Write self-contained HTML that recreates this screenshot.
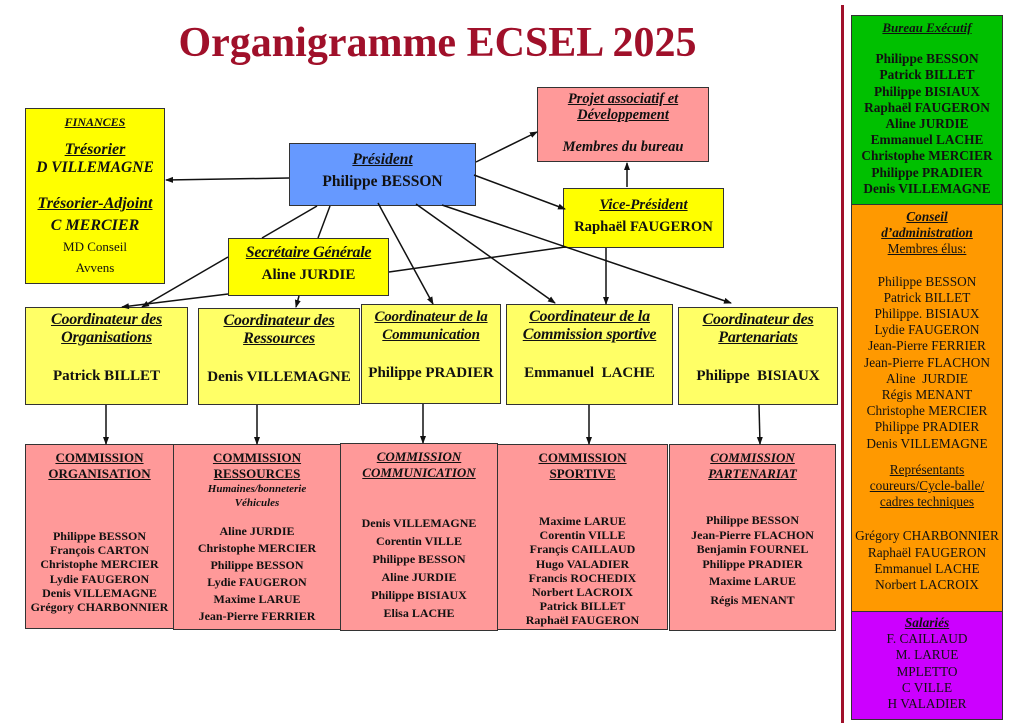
<!DOCTYPE html>
<html><head><meta charset="utf-8"><style>
*{margin:0;padding:0;box-sizing:border-box}
body{width:1024px;height:723px;background:#fff;position:relative;overflow:hidden;font-family:"Liberation Serif",serif;font-weight:bold;color:#111}
.b{position:absolute;border:1.5px solid #333;text-align:center;font-size:13px;line-height:16px;white-space:nowrap}
.t{font-style:italic;text-decoration:underline}
.y{background:#ffff00}.ly{background:#ffff66}.p{background:#ff9999}
svg{position:absolute;left:0;top:0}
.ct{font-size:16px;line-height:18px;letter-spacing:-0.2px}
</style></head><body>
<div style="position:absolute;left:130px;top:18px;width:615px;text-align:center;font-size:42px;color:#a0102a;line-height:50px">Organigramme ECSEL 2025</div>

<div class="b y" style="left:25px;top:108px;width:140px;height:176px;padding-top:4px;line-height:18px">
<div class="t" style="font-size:12px">FINANCES</div>
<div class="t" style="font-size:16px;margin-top:10px">Trésorier</div>
<div style="font-style:italic;font-size:15.5px">D VILLEMAGNE</div>
<div class="t" style="font-size:16px;margin-top:18px">Trésorier-Adjoint</div>
<div style="font-style:italic;font-size:16px;margin-top:4px">C MERCIER</div>
<div style="font-weight:normal;font-size:13px;margin-top:3px">MD Conseil</div>
<div style="font-weight:normal;font-size:13px;margin-top:3px">Avvens</div>
</div>

<div class="b" style="left:289px;top:143px;width:187px;height:63px;background:#6699ff;padding-top:5px;font-size:15.5px;line-height:22px">
<div class="t">Président</div><div>Philippe BESSON</div></div>

<div class="b p" style="left:537px;top:87px;width:172px;height:75px;padding-top:3px;font-size:14.5px;line-height:16px;font-style:italic">
<div style="text-decoration:underline">Projet associatif et<br>Développement</div><div style="margin-top:16px">Membres du bureau</div></div>

<div class="b y" style="left:563px;top:188px;width:161px;height:60px;padding-top:5px;font-size:14.7px;line-height:22px">
<div class="t">Vice-Président</div><div>Raphaël FAUGERON</div></div>

<div class="b y" style="left:228px;top:238px;width:161px;height:58px;padding-top:2px;font-size:15px;line-height:23px">
<div class="t" style="font-size:16px;letter-spacing:-0.3px">Secrétaire Générale</div><div>Aline JURDIE</div></div>

<div class="b ly" style="left:25px;top:307px;width:163px;height:98px;padding-top:3px;font-size:15px;line-height:18px"><div class="t ct">Coordinateur des<br>Organisations</div><div style="margin-top:20px">Patrick BILLET</div></div>
<div class="b ly" style="left:198px;top:308px;width:162px;height:97px;padding-top:3px;font-size:15px;line-height:18px"><div class="t ct">Coordinateur des<br>Ressources</div><div style="margin-top:20px">Denis VILLEMAGNE</div></div>
<div class="b ly" style="left:361px;top:304px;width:140px;height:100px;padding-top:3px;font-size:15px;line-height:18px"><div class="t ct" style="font-size:15px">Coordinateur de la<br>Communication</div><div style="margin-top:20px">Philippe PRADIER</div></div>
<div class="b ly" style="left:506px;top:304px;width:167px;height:101px;padding-top:3px;font-size:15px;line-height:18px"><div class="t ct">Coordinateur de la<br>Commission sportive</div><div style="margin-top:20px">Emmanuel&nbsp; LACHE</div></div>
<div class="b ly" style="left:678px;top:307px;width:160px;height:98px;padding-top:3px;font-size:15px;line-height:18px"><div class="t ct">Coordinateur des<br>Partenariats</div><div style="margin-top:20px">Philippe&nbsp; BISIAUX</div></div>

<div class="b p" style="left:25px;top:444px;width:149px;height:185px;padding-top:5px;font-size:12px;line-height:14.2px">
<div style="font-size:13px;line-height:16px;text-decoration:underline">COMMISSION<br>ORGANISATION</div>
<div style="margin-top:47px">Philippe BESSON<br>François CARTON<br>Christophe MERCIER<br>Lydie FAUGERON<br>Denis VILLEMAGNE<br>Grégory CHARBONNIER</div></div>
<div class="b p" style="left:173px;top:444px;width:168px;height:186px;padding-top:5px;font-size:12px;line-height:14px">
<div style="font-size:13px;line-height:16px;text-decoration:underline">COMMISSION<br>RESSOURCES</div>
<div style="font-style:italic;font-size:11px">Humaines/bonneterie<br>Véhicules</div>
<div style="margin-top:13px;line-height:17px">Aline JURDIE<br>Christophe MERCIER<br>Philippe BESSON<br>Lydie FAUGERON<br>Maxime LARUE<br>Jean-Pierre FERRIER</div></div>
<div class="b p" style="left:340px;top:443px;width:158px;height:188px;padding-top:5px;font-size:12px;line-height:18px">
<div class="t" style="font-size:13px;line-height:16px">COMMISSION<br>COMMUNICATION</div>
<div style="margin-top:33px">Denis VILLEMAGNE<br>Corentin VILLE<br>Philippe BESSON<br>Aline JURDIE<br>Philippe BISIAUX<br>Elisa LACHE</div></div>
<div class="b p" style="left:497px;top:444px;width:171px;height:186px;padding-top:5px;font-size:12px;line-height:14.2px">
<div style="font-size:13px;line-height:16px;text-decoration:underline">COMMISSION<br>SPORTIVE</div>
<div style="margin-top:32px">Maxime LARUE<br>Corentin VILLE<br>Françis CAILLAUD<br>Hugo VALADIER<br>Francis ROCHEDIX<br>Norbert LACROIX<br>Patrick BILLET<br>Raphaël FAUGERON</div></div>
<div class="b p" style="left:669px;top:444px;width:167px;height:187px;padding-top:5px;font-size:12px;line-height:14.5px">
<div class="t" style="font-size:13px;line-height:16px">COMMISSION<br>PARTENARIAT</div>
<div style="margin-top:31px">Philippe BESSON<br>Jean-Pierre FLACHON<br>Benjamin FOURNEL<br>Philippe PRADIER<br><span style="line-height:20px">Maxime LARUE</span><br><span style="line-height:18px">Régis MENANT</span></div></div>

<div style="position:absolute;left:841px;top:5px;width:3px;height:718px;background:#a0102a"></div>

<div class="b" style="left:851px;top:15px;width:152px;height:190px;background:#00c000;padding-top:4px;font-size:13.3px;line-height:16.2px">
<div class="t" style="font-size:13px">Bureau Exécutif</div>
<div style="margin-top:15px">Philippe BESSON<br>Patrick BILLET<br>Philippe BISIAUX<br>Raphaël FAUGERON<br>Aline JURDIE<br>Emmanuel LACHE<br>Christophe MERCIER<br>Philippe PRADIER<br>Denis VILLEMAGNE</div></div>
<div class="b" style="left:851px;top:204px;width:152px;height:408px;background:#ff9900;padding-top:4px;font-size:13.3px;line-height:16.2px;font-weight:normal">
<div class="t" style="font-weight:bold">Conseil<br>d’administration</div>
<div style="text-decoration:underline">Membres élus:</div>
<div style="margin-top:16px">Philippe BESSON<br>Patrick BILLET<br>Philippe. BISIAUX<br>Lydie FAUGERON<br>Jean-Pierre FERRIER<br>Jean-Pierre FLACHON<br>Aline&nbsp; JURDIE<br>Régis MENANT<br>Christophe MERCIER<br>Philippe PRADIER<br>Denis VILLEMAGNE</div>
<div style="margin-top:10px;text-decoration:underline">Représentants<br>coureurs/Cycle-balle/<br>cadres techniques</div>
<div style="margin-top:18px">Grégory CHARBONNIER<br>Raphaël FAUGERON<br>Emmanuel LACHE<br>Norbert LACROIX</div></div>
<div class="b" style="left:851px;top:611px;width:152px;height:109px;background:#cc00ff;padding-top:3px;font-size:13.3px;line-height:16.2px;font-weight:normal">
<div class="t" style="font-weight:bold">Salariés</div>F. CAILLAUD<br>M. LARUE<br>MPLETTO<br>C VILLE<br>H VALADIER</div>

<svg width="1024" height="723" viewBox="0 0 1024 723">
<defs><marker id="a" markerWidth="8" markerHeight="8" refX="7" refY="4" orient="auto" markerUnits="userSpaceOnUse"><path d="M0,1 L8,4 L0,7 z" fill="#111"/></marker></defs>
<g stroke="#111" stroke-width="1.5" fill="none">
<line x1="289" y1="178" x2="166" y2="180" marker-end="url(#a)"/>
<line x1="476" y1="162" x2="537" y2="132" marker-end="url(#a)"/>
<line x1="474" y1="175" x2="565" y2="209" marker-end="url(#a)"/>
<line x1="627" y1="187" x2="627" y2="163" marker-end="url(#a)"/>
<line x1="606" y1="248" x2="606" y2="304" marker-end="url(#a)"/>
<line x1="317" y1="206" x2="262" y2="238"/>
<line x1="330" y1="206" x2="318" y2="238"/>
<line x1="378" y1="203" x2="433" y2="304" marker-end="url(#a)"/>
<line x1="416" y1="204" x2="555" y2="303" marker-end="url(#a)"/>
<line x1="442" y1="205" x2="731" y2="303" marker-end="url(#a)"/>
<line x1="228" y1="257" x2="142" y2="307" marker-end="url(#a)"/>
<line x1="228" y1="294" x2="122" y2="307" marker-end="url(#a)"/>
<line x1="299" y1="296" x2="296" y2="307" marker-end="url(#a)"/>
<line x1="389" y1="272" x2="565" y2="247"/>
<line x1="106" y1="405" x2="106" y2="444" marker-end="url(#a)"/>
<line x1="257" y1="405" x2="257" y2="444" marker-end="url(#a)"/>
<line x1="423" y1="404" x2="423" y2="443" marker-end="url(#a)"/>
<line x1="589" y1="405" x2="589" y2="444" marker-end="url(#a)"/>
<line x1="759" y1="405" x2="760" y2="444" marker-end="url(#a)"/>
</g></svg>
</body></html>
